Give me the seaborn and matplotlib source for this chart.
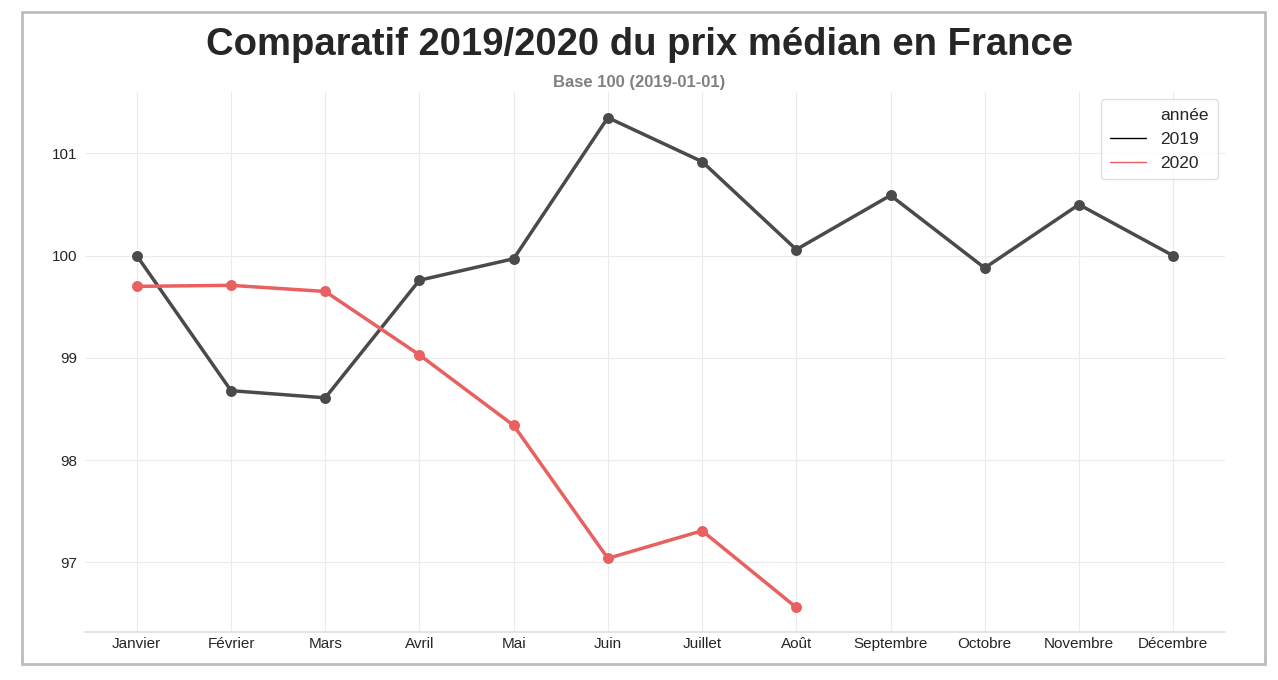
import pandas as pd
import seaborn as sns
import matplotlib.pyplot as plt
from matplotlib.lines import Line2D
from matplotlib.patches import Rectangle

# Values (base 100 = 2019-01-01)
mois = ['Janvier', 'Février', 'Mars', 'Avril', 'Mai', 'Juin', 'Juillet',
        'Août', 'Septembre', 'Octobre', 'Novembre', 'Décembre']
prix_2019 = [100.0, 98.68, 98.61, 99.76, 99.97, 101.35, 100.92, 100.06,
             100.59, 99.88, 100.50, 100.0]
prix_2020 = [99.70, 99.71, 99.65, 99.03, 98.34, 97.04, 97.31, 96.56]
couleurs = {'2019': '#4b4a4b', '2020': '#e8605f'}

df = pd.concat([
    pd.DataFrame({'mois': mois, 'prix': prix_2019, 'année': '2019'}),
    pd.DataFrame({'mois': mois[:len(prix_2020)], 'prix': prix_2020, 'année': '2020'}),
])

sns.set_theme(style='whitegrid')
plt.rcParams['font.family'] = ['Liberation Sans', 'DejaVu Sans']

fig = plt.figure(figsize=(12.78, 6.8), dpi=100)
ax = fig.add_axes([0.0665, 0.0706, 0.892, 0.794])

sns.pointplot(data=df, x='mois', y='prix', hue='année', order=mois,
              palette=couleurs, markers='o', markersize=6, linewidth=2.5,
              ax=ax, legend=False)

ax.set_xlim(-0.55, 11.55)
ax.set_ylim(96.32, 101.6)
ax.set_yticks([97, 98, 99, 100, 101])
ax.set_xlabel('')
ax.set_ylabel('')
ax.tick_params(axis='both', labelsize=11, colors='#262626', length=0)
ax.tick_params(axis='y', pad=5.5)
ax.grid(True, color='#ebebeb', linewidth=0.8)
for s in ['left', 'right', 'top']:
    ax.spines[s].set_visible(False)
ax.spines['bottom'].set_color('#e0e0e0')

# legend in the old seaborn style: "année" as a first entry without handle
handles = [Line2D([], [], color='none'),
           Line2D([], [], color='black', linewidth=1),
           Line2D([], [], color='#e8605f', linewidth=1)]
leg = ax.legend(handles, ['année', '2019', '2020'], loc='upper right',
                bbox_to_anchor=(0.9935, 0.987), fontsize=12.5, frameon=True,
                borderpad=0.5, handlelength=2.1, borderaxespad=0)
leg.get_frame().set_edgecolor('#d9d9d9')

fig.text(0.5, 0.934, 'Comparatif 2019/2020 du prix médian en France',
         ha='center', va='center', fontsize=27.5, fontweight='bold', color='#262626')
fig.text(0.5, 0.879, 'Base 100 (2019-01-01)', ha='center', va='center',
         fontsize=12, fontweight='bold', color='#808080')

fig.patches.append(Rectangle((0.0172, 0.0235), 0.9726, 0.9585, transform=fig.transFigure,
                             fill=False, edgecolor='#bdbdbd', linewidth=2))

fig.savefig('out.png', dpi=100)
